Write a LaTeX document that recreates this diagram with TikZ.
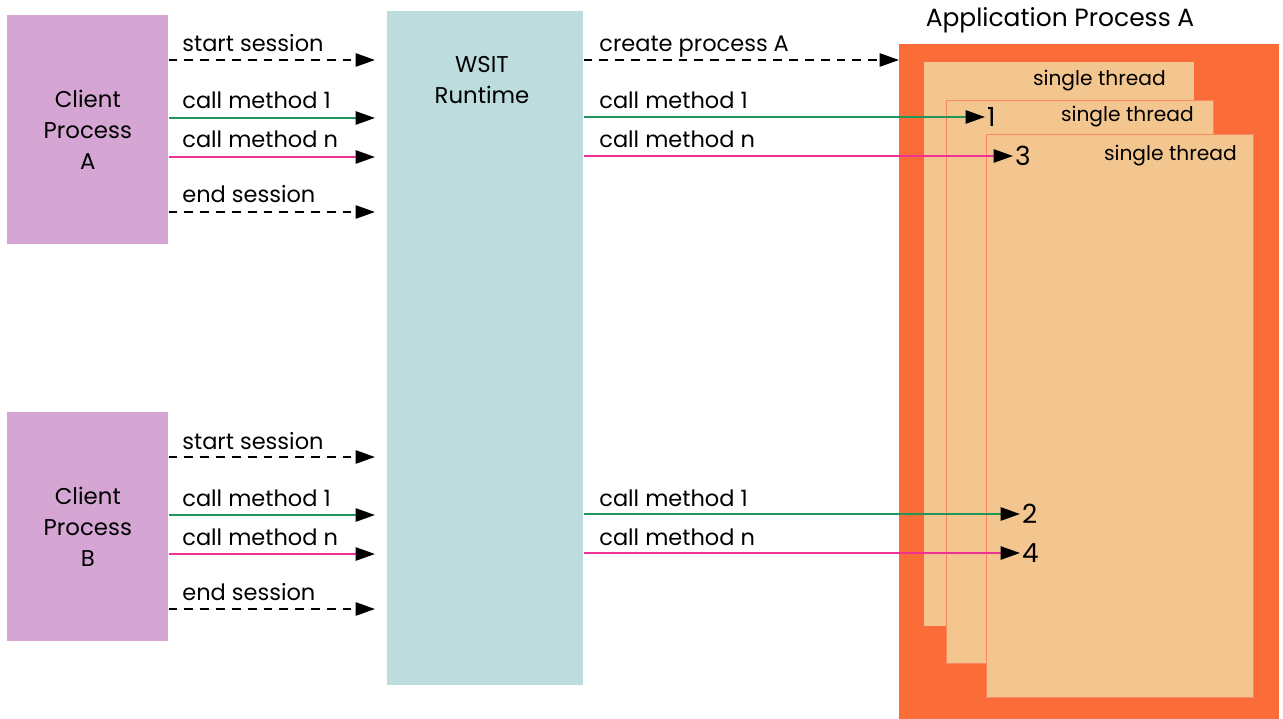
\documentclass[tikz,border=0pt]{standalone}
\usepackage{fontspec}
\setmainfont{Poppins}
\usetikzlibrary{arrows.meta,positioning}

\definecolor{clientlilac}{RGB}{213,166,211}
\definecolor{runtimeblue}{RGB}{188,220,222}
\definecolor{apporange}{RGB}{250,108,56}
\definecolor{threadtan}{RGB}{243,197,143}
\definecolor{callgreen}{RGB}{34,150,90}
\definecolor{callpink}{RGB}{240,50,150}

\tikzset{
  box/.style={anchor=north west, inner sep=0pt, align=center, font=\fontsize{13}{17.5}\selectfont},
  threadbox/.style={box, fill=threadtan},
  msg/.style={anchor=base west, inner sep=0pt, font=\fontsize{12.8}{15}\selectfont},
  threadlbl/.style={anchor=base east, inner sep=0pt, font=\fontsize{11.5}{14}\selectfont},
  num/.style={anchor=west, inner sep=1pt, font=\fontsize{15}{17}\selectfont},
  tip/.style={-{Triangle[length=11pt,width=7.5pt,color=black]}, line width=1.1pt},
  sessionmsg/.style={tip, dash pattern=on 5pt off 4pt},
  firstcall/.style={tip, callgreen},
  lastcall/.style={tip, callpink},
}

\begin{document}
\begin{tikzpicture}[x=0.02cm, y=-0.02cm]
  \useasboundingbox (0,0) rectangle (1283,719);

  % client processes
  \node[box, fill=clientlilac, minimum width=3.22cm, minimum height=4.58cm] (clientA) at (7,15) {Client\\Process\\A};
  \node[box, fill=clientlilac, minimum width=3.22cm, minimum height=4.58cm] (clientB) at (7,412) {Client\\Process\\B};

  % runtime
  \node[box, fill=runtimeblue, minimum width=3.92cm, minimum height=13.48cm] (runtime) at (387,11) {};
  \node[align=center, font=\fontsize{13}{17.5}\selectfont] (runtimeLbl) at (482,80) {WSIT\\Runtime};

  % application process with its threads
  \node[box, fill=apporange, minimum width=7.6cm, minimum height=13.6cm] (app) at (899,44) {};
  \node[font=\fontsize{14.2}{16}\selectfont] (appLbl) at (1060,20) {Application Process A};
  \node[threadbox, minimum width=5.4cm, minimum height=11.28cm] (thread1) at (924,62) {};
  \node[threadbox, draw=apporange!80, minimum width=5.34cm, minimum height=11.26cm] (thread2) at (946,100) {};
  \node[threadbox, draw=apporange!80, minimum width=5.34cm, minimum height=11.26cm] (thread3) at (986,134) {};
  \node[threadlbl] (thread1Lbl) at (1166,86) {single thread};
  \node[threadlbl] (thread2Lbl) at (1194,122) {single thread};
  \node[threadlbl] (thread3Lbl) at (1237,161) {single thread};

  % arrow ends at the runtime
  \coordinate (inA1) at (375,60);
  \coordinate (inA2) at (375,118);
  \coordinate (inA3) at (375,157);
  \coordinate (inA4) at (375,212);
  \coordinate (inB1) at (375,457);
  \coordinate (inB2) at (375,515);
  \coordinate (inB3) at (375,554);
  \coordinate (inB4) at (375,609);

  % client A calls
  \draw[sessionmsg] (clientA.east |- inA1) -- (inA1);
  \draw[firstcall] (clientA.east |- inA2) -- (inA2);
  \draw[lastcall] (clientA.east |- inA3) -- (inA3);
  \draw[sessionmsg] (clientA.east |- inA4) -- (inA4);
  \node[msg] (lblA1) at (182,52) {start session};
  \node[msg] (lblA2) at (182,109) {call method 1};
  \node[msg] (lblA3) at (182,148) {call method n};
  \node[msg] (lblA4) at (182,203) {end session};

  % client B calls
  \draw[sessionmsg] (clientB.east |- inB1) -- (inB1);
  \draw[firstcall] (clientB.east |- inB2) -- (inB2);
  \draw[lastcall] (clientB.east |- inB3) -- (inB3);
  \draw[sessionmsg] (clientB.east |- inB4) -- (inB4);
  \node[msg] (lblB1) at (182,449) {start session};
  \node[msg] (lblB2) at (182,506) {call method 1};
  \node[msg] (lblB3) at (182,545) {call method n};
  \node[msg] (lblB4) at (182,600) {end session};

  % runtime to application
  \node[num] (n1) at (985,117) {1};
  \node[num] (n3) at (1013,156) {3};
  \node[num] (n2) at (1020,514) {2};
  \node[num] (n4) at (1020,553) {4};
  \draw[sessionmsg] (runtime.east |- inA1) -- (app.west |- inA1);
  \draw[firstcall] (runtime.east |- n1) -- (n1.west);
  \draw[lastcall] (runtime.east |- n3) -- (n3.west);
  \draw[firstcall] (runtime.east |- n2) -- (n2.west);
  \draw[lastcall] (runtime.east |- n4) -- (n4.west);
  \node[msg] (lblR1) at (599,52) {create process A};
  \node[msg] (lblR2) at (599,109) {call method 1};
  \node[msg] (lblR3) at (599,148) {call method n};
  \node[msg] (lblR4) at (599,506) {call method 1};
  \node[msg] (lblR5) at (599,545) {call method n};
\end{tikzpicture}
\end{document}
